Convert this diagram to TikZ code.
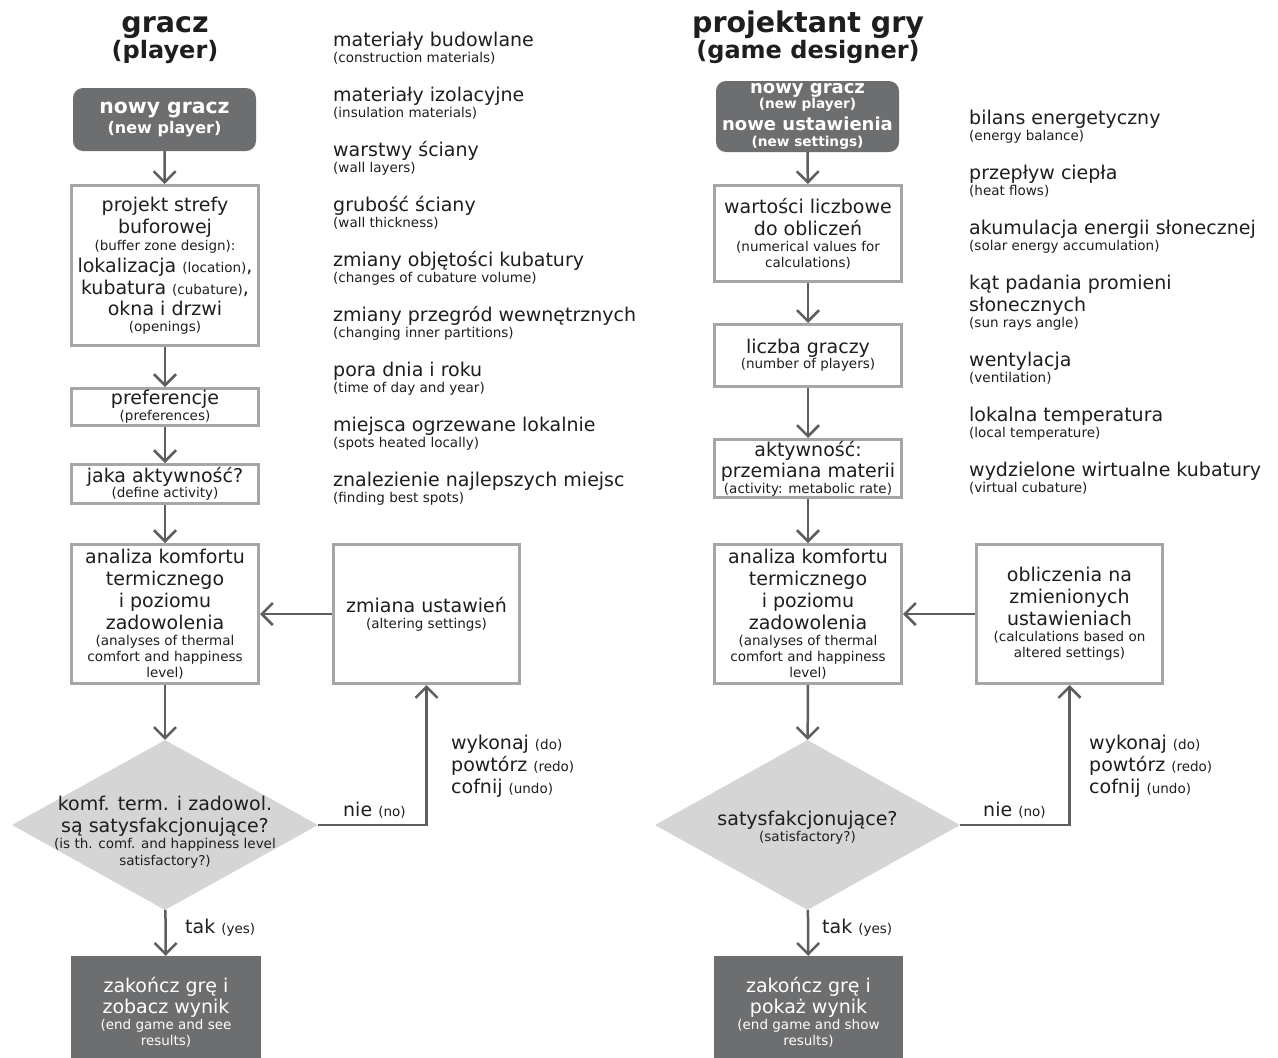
\documentclass[tikz,border=0pt]{standalone}
\usepackage{fontspec}
\setmainfont{DejaVu Sans}
\usetikzlibrary{arrows.meta,shapes.geometric}
\definecolor{txt}{HTML}{1E1E1E}
\definecolor{bord}{HTML}{A6A6A6}
\definecolor{arr}{HTML}{5E5E5E}
\definecolor{darkfill}{HTML}{6D6E70}
\definecolor{diafill}{HTML}{D5D5D5}
\newcommand\txtbig{\fontsize{19}{22}\selectfont}
\newcommand\txtsml{\fontsize{13.5}{16}\selectfont}
\begin{document}
\begin{tikzpicture}[x=1pt,y=-1pt,
  box/.style={draw=bord,line width=3pt,fill=white,align=center,inner sep=0pt,text=txt,font=\txtbig},
  darkbox/.style={fill=darkfill,rounded corners=10pt,align=center,inner sep=0pt,text=white},
  diam/.style={diamond,fill=diafill,inner sep=0pt},
  conn/.style={draw=arr,line width=2.5pt,-{Straight Barb[length=11pt,width=22pt]}},
  lbl/.style={text=txt,inner sep=0pt,font=\txtbig},
  ttl/.style={text=txt,inner sep=0pt,font=\bfseries\fontsize{28.5}{34}\selectfont},
  ttlsub/.style={text=txt,inner sep=0pt,font=\bfseries\fontsize{24}{28}\selectfont},
]
\clip (0,0) rectangle (1278,1058);
\fill[white] (0,0) rectangle (1278,1058);

% ---------- titles
\node[ttl,anchor=base] (t1a) at (165,32) {gracz};
\node[ttlsub,anchor=base] (t1b) at (165,58) {(player)};
\node[ttl,anchor=base] (t2a) at (808,32) {projektant gry};
\node[ttlsub,anchor=base] (t2b) at (808,58) {(game designer)};

% ---------- left column
\node[darkbox,minimum width=183pt,minimum height=63pt,font=\bfseries\fontsize{20.4}{24}\selectfont] (n1) at (164.5,119.5)
  {nowy gracz\\[-4pt]{\fontsize{16}{19}\selectfont (new player)}};
\node[box,minimum width=187pt,minimum height=160pt] (proj) at (165,265.5)
  {projekt strefy\\buforowej\\[-5pt]{\txtsml (buffer zone design):}\\
   lokalizacja {\txtsml (location)},\\kubatura {\txtsml (cubature)},\\[-1pt]okna i drzwi\\[-6pt]{\txtsml (openings)}};
\node[box,minimum width=187pt,minimum height=37pt] (pref) at (165,407)
  {preferencje\\[-6pt]{\txtsml (preferences)}};
\node[box,minimum width=187pt,minimum height=39pt] (akt1) at (165,484)
  {jaka aktywność?\\[-7pt]{\txtsml (define activity)}};
\node[box,minimum width=187pt,minimum height=139pt] (an1) at (165,614)
  {analiza komfortu\\termicznego\\i poziomu\\zadowolenia\\[-6pt]{\txtsml (analyses of thermal}\\[-6pt]{\txtsml comfort and happiness}\\[-6pt]{\txtsml level)}};
\node[diam,minimum width=306pt,minimum height=170pt] (d1) at (165,825) {};
\node[lbl,align=center] (d1t) at (165,832)
  {komf. term. i zadowol.\\są satysfakcjonujące?\\[-6pt]{\txtsml (is th. comf. and happiness level}\\[-5pt]{\txtsml satisfactory?)}};
\node[darkbox,rounded corners=0pt,minimum width=190pt,minimum height=112pt,font=\txtbig] (z1) at (166,1012)
  {zakończ grę i\\[-1pt]zobacz wynik\\[-6pt]{\txtsml (end game and see}\\[-6pt]{\txtsml results)}};
\node[box,minimum width=186pt,minimum height=139pt] (zm1) at (426.5,614)
  {zmiana ustawień\\[-6pt]{\txtsml (altering settings)}};

\draw[conn] (n1) -- (proj);
\draw[conn] (proj) -- (pref);
\draw[conn] (pref) -- (akt1);
\draw[conn] (akt1) -- (an1);
\draw[conn] (an1) -- (d1);
\draw[conn] (d1) -- (z1);
\draw[conn] (zm1) -- (an1);
\draw[conn] (d1.east) -| (zm1.south);

\node[lbl,anchor=base west] (no1) at (343,816) {nie {\txtsml (no)}};
\node[lbl,anchor=base west] (yes1) at (185,933) {tak {\txtsml (yes)}};
\node[lbl,anchor=base west] (w1a) at (451,749) {wykonaj {\txtsml (do)}};
\node[lbl,anchor=base west] (w1b) at (451,771) {powtórz {\txtsml (redo)}};
\node[lbl,anchor=base west] (w1c) at (451,793) {cofnij {\txtsml (undo)}};

% ---------- left list
\foreach \i/\a/\b in {0/{materiały budowlane}/{(construction materials)},
  1/{materiały izolacyjne}/{(insulation materials)},
  2/{warstwy ściany}/{(wall layers)},
  3/{grubość ściany}/{(wall thickness)},
  4/{zmiany objętości kubatury}/{(changes of cubature volume)},
  5/{zmiany przegród wewnętrznych}/{(changing inner partitions)},
  6/{pora dnia i roku}/{(time of day and year)},
  7/{miejsca ogrzewane lokalnie}/{(spots heated locally)},
  8/{znalezienie najlepszych miejsc}/{(finding best spots)}}{
  \node[lbl,anchor=base west] (la\i) at (333,46+55*\i) {\a};
  \node[lbl,anchor=base west,font=\txtsml] (lb\i) at (333,62+55*\i) {\b};
}

% ---------- right column
\node[darkbox,minimum width=183pt,minimum height=71pt,font=\bfseries\fontsize{18}{22}\selectfont] (n2) at (807.5,116.5)
  {nowy gracz\\[-7pt]{\fontsize{13.7}{16}\selectfont (new player)}\\nowe ustawienia\\[-6pt]{\fontsize{13.7}{16}\selectfont (new settings)}};
\node[box,minimum width=187pt,minimum height=96pt] (wart) at (808,233.5)
  {wartości liczbowe\\do obliczeń\\[-6pt]{\txtsml (numerical values for}\\[-6pt]{\txtsml calculations)}};
\node[box,minimum width=187pt,minimum height=62pt] (licz) at (808,355.5)
  {liczba graczy\\[-7pt]{\txtsml (number of players)}};
\node[box,minimum width=187pt,minimum height=58pt] (akt2) at (808,468.5)
  {aktywność:\\[-1pt]przemiana materii\\[-6pt]{\txtsml (activity: metabolic rate)}};
\node[box,minimum width=187pt,minimum height=139pt] (an2) at (808,614)
  {analiza komfortu\\termicznego\\i poziomu\\zadowolenia\\[-6pt]{\txtsml (analyses of thermal}\\[-6pt]{\txtsml comfort and happiness}\\[-6pt]{\txtsml level)}};
\node[diam,minimum width=305pt,minimum height=170pt] (d2) at (807.5,825) {};
\node[lbl,align=center] (d2t) at (807.5,828)
  {satysfakcjonujące?\\[-6pt]{\txtsml (satisfactory?)}};
\node[darkbox,rounded corners=0pt,minimum width=189pt,minimum height=112pt,font=\txtbig] (z2) at (808.5,1012)
  {zakończ grę i\\[-1pt]pokaż wynik\\[-6pt]{\txtsml (end game and show}\\[-6pt]{\txtsml results)}};
\node[box,minimum width=186pt,minimum height=139pt] (obl) at (1069.5,614)
  {obliczenia na\\zmienionych\\ustawieniach\\[-6pt]{\txtsml (calculations based on}\\[-6pt]{\txtsml altered settings)}};

\draw[conn] (n2) -- (wart);
\draw[conn] (wart) -- (licz);
\draw[conn] (licz) -- (akt2);
\draw[conn] (akt2) -- (an2);
\draw[conn] (an2) -- (d2);
\draw[conn] (d2) -- (z2);
\draw[conn] (obl) -- (an2);
\draw[conn] (d2.east) -| (obl.south);

\node[lbl,anchor=base west] (no2) at (983,816) {nie {\txtsml (no)}};
\node[lbl,anchor=base west] (yes2) at (822,933) {tak {\txtsml (yes)}};
\node[lbl,anchor=base west] (w2a) at (1089,749) {wykonaj {\txtsml (do)}};
\node[lbl,anchor=base west] (w2b) at (1089,771) {powtórz {\txtsml (redo)}};
\node[lbl,anchor=base west] (w2c) at (1089,793) {cofnij {\txtsml (undo)}};

% ---------- right list
\foreach \i/\y/\a/\b in {0/124/{bilans energetyczny}/{(energy balance)},
  1/179/{przepływ ciepła}/{(heat flows)},
  2/234/{akumulacja energii słonecznej}/{(solar energy accumulation)},
  4/366/{wentylacja}/{(ventilation)},
  5/421/{lokalna temperatura}/{(local temperature)},
  6/476/{wydzielone wirtualne kubatury}/{(virtual cubature)}}{
  \node[lbl,anchor=base west] (ra\i) at (969,\y) {\a};
  \node[lbl,anchor=base west,font=\txtsml] (rb\i) at (969,\y+16) {\b};
}
\node[lbl,anchor=base west] (ra3) at (969,289) {kąt padania promieni};
\node[lbl,anchor=base west] (rc3) at (969,311) {słonecznych};
\node[lbl,anchor=base west,font=\txtsml] (rb3) at (969,327) {(sun rays angle)};
\end{tikzpicture}
\end{document}
